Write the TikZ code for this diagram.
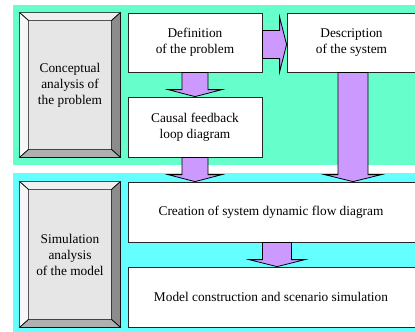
\documentclass[tikz,border=0pt]{standalone}
\usepackage{fontspec}
\setmainfont{Liberation Serif}
\usetikzlibrary{calc,fit}
\definecolor{mint}{HTML}{66FFCC}
\definecolor{aqua}{HTML}{66FFFF}
\definecolor{lilac}{HTML}{CC99FF}
\definecolor{bevface}{HTML}{E6E6E6}
\definecolor{bevlight}{HTML}{F0F0F0}
\definecolor{bevleft}{HTML}{F7F7F7}
\definecolor{bevdark}{HTML}{8C8C8C}
\definecolor{bevmid}{HTML}{B0B0B0}
\newcommand\drawbevels[1]{%
  \draw[bevel,fill=bevlight] (#1.north west) -- (#1.north east) -- ($(#1.north east)+(-9,8)$) -- ($(#1.north west)+(9,8)$) -- cycle;
  \draw[bevel,fill=bevleft] (#1.north west) -- ($(#1.north west)+(9,8)$) -- ($(#1.south west)+(9,-8)$) -- (#1.south west) -- cycle;
  \draw[bevel,fill=bevdark] (#1.north east) -- ($(#1.north east)+(-9,8)$) -- ($(#1.south east)+(-9,-8)$) -- (#1.south east) -- cycle;
  \draw[bevel,fill=bevmid] (#1.south west) -- ($(#1.south west)+(9,-8)$) -- ($(#1.south east)+(-9,-8)$) -- (#1.south east) -- cycle;
}
% #1 start, #2 tip (same x), #3 shaft half width, #4 head half width
\newcommand\downblock[4]{%
  \draw[blockarrow] ($(#1)+(-#3,0)$) -- ($(#2)+(-#3,-7)$) -- ($(#2)+(-#4,-7)$) -- (#2) -- ($(#2)+(#4,-7)$) -- ($(#2)+(#3,-7)$) -- ($(#1)+(#3,0)$) -- cycle;}
\newcommand\rightblock[4]{%
  \draw[blockarrow] ($(#1)+(0,-#3)$) -- ($(#2)+(-7,-#3)$) -- ($(#2)+(-7,-#4)$) -- (#2) -- ($(#2)+(-7,#4)$) -- ($(#2)+(-7,#3)$) -- ($(#1)+(0,#3)$) -- cycle;}
\begin{document}
\begin{tikzpicture}[x=0.75pt,y=-0.75pt,
  txt/.style={font=\fontsize{10}{12}\selectfont, align=center},
  whitebox/.style={txt, draw=black!85, line width=0.6pt, fill=white, inner sep=0pt},
  bevelbox/.style={txt, draw=black, line width=0.6pt, fill=bevface, inner sep=0pt},
  bevel/.style={draw=black, line width=0.5pt, line join=miter},
  blockarrow/.style={fill=lilac, draw=black, line width=0.6pt, line join=miter}]
\useasboundingbox (0,0) rectangle (415,332);
\fill[mint] (13,5) rectangle (415,165);
\fill[aqua] (13,173) rectangle (415,332);

\node[bevelbox, fit={(20,13)(120,157)}] (concept) {};
\drawbevels{concept}
\node[txt] at (concept.center) {Conceptual\\analysis of\\the problem};

\node[bevelbox, fit={(20,182)(120,327)}] (simul) {};
\drawbevels{simul}
\node[txt] at (simul.center) {Simulation\\analysis\\of the model};

\node[whitebox, fit={(128,13)(262,72)}] (def) {};
\node[txt] at (def.center) {Definition\\of the problem};
\node[whitebox, fit={(287,13)(416,72)}] (desc) {};
\node[txt] at (desc.center) {Description\\of the system};
\node[whitebox, fit={(128,97)(262,157)}] (causal) {};
\node[txt] at (causal.center) {Causal feedback\\loop diagram};
\node[whitebox, fit={(128,182)(416,242)}] (creation) {};
\node[txt] at ($(creation.center)+(-1,0)$) {Creation of system dynamic flow diagram};
\node[whitebox, fit={(128,267)(416,327)}] (model) {};
\node[txt] at ($(model.center)+(-1,0)$) {Model construction and scenario simulation};

\downblock{def.south}{causal.north}{13}{27}
\coordinate (t2) at (causal.south |- creation.north);
\downblock{causal.south}{t2}{13}{27}
\coordinate (s3) at ($(desc.south)+(1.5,0)$);
\coordinate (t3) at (s3 |- creation.north);
\downblock{s3}{t3}{15}{28.5}
\coordinate (s4) at ($(creation.south)+(5,0)$);
\coordinate (t4) at (s4 |- model.north);
\downblock{s4}{t4}{14.5}{28}
\coordinate (s5) at ($(def.east)+(0,2)$);
\coordinate (t5) at (s5 -| desc.west);
\rightblock{s5}{t5}{14}{27.5}
\end{tikzpicture}
\end{document}
